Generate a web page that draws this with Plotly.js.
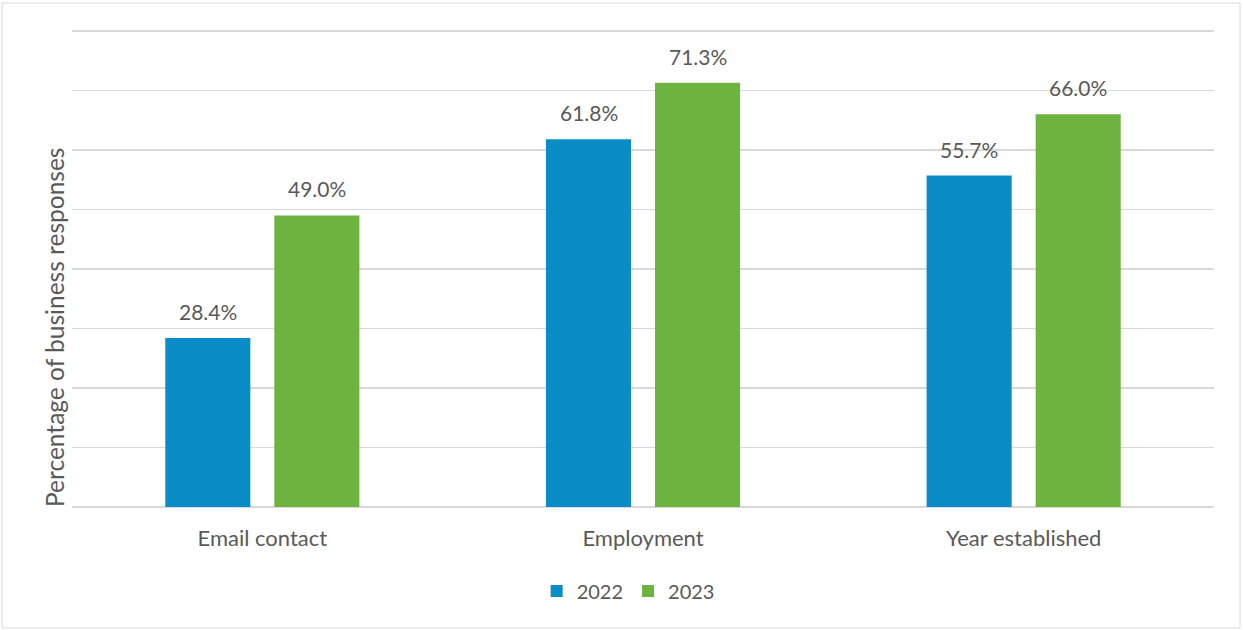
<!DOCTYPE html>
<html>
<head>
<meta charset="utf-8">
<script src="https://cdn.plot.ly/plotly-3.0.1.min.js"></script>
<style>html,body{margin:0;padding:0;background:#fff;}#chart{width:1243px;height:630px;}</style>
</head>
<body>
<div id="chart"></div>
<script>
const categories = ["Email contact", "Employment", "Year established"];
const values2022 = [28.4, 61.8, 55.7];
const values2023 = [49.0, 71.3, 66.0];
const seriesNames = ["2022", "2023"];
const colors = ["#0A8CC6", "#6CB33F"];

const FONT = "Lato, 'Open Sans', sans-serif";
const TXT = "#595959";

const traces = [values2022, values2023].map((vals, i) => ({
  type: "bar",
  name: seriesNames[i],
  x: categories,
  y: vals,
  marker: {color: colors[i]},
  hoverinfo: "skip"
}));

const annotations = [];
[values2022, values2023].forEach((vals, i) => {
  vals.forEach((v, j) => {
    annotations.push({
      x: categories[j], y: v, xref: "x", yref: "y",
      xshift: (i === 0 ? -54.5 : 54.5), yshift: 12,
      yanchor: "bottom", showarrow: false,
      text: v.toFixed(1) + "%",
      font: {family: FONT, size: 21, color: TXT}
    });
  });
});
annotations.push({
  xref: "paper", yref: "paper", x: -0.0158, y: 0.3734,
  xanchor: "center", yanchor: "middle", textangle: -90, showarrow: false,
  text: "Percentage of business responses",
  font: {family: FONT, size: 24.5, color: TXT}
});

const layout = {
  width: 1243, height: 630,
  margin: {l: 72, r: 29, t: 25, b: 123},
  paper_bgcolor: "#ffffff", plot_bgcolor: "#ffffff",
  barmode: "group", bargap: 0.427, bargroupgap: 0.22,
  font: {family: FONT, size: 20, color: TXT},
  xaxis: {
    showgrid: false, showline: false, zeroline: false,
    ticks: "outside", ticklen: 12, tickcolor: "rgba(0,0,0,0)",
    tickfont: {family: FONT, size: 22, color: TXT}
  },
  yaxis: {
    range: [0, 81], tick0: 0, dtick: 10, showticklabels: false,
    showgrid: true, gridcolor: "#d9d9d9", gridwidth: 1.5,
    zeroline: true, zerolinecolor: "#d9d9d9", zerolinewidth: 1.5,
    showline: false, fixedrange: true
  },
  showlegend: true,
  legend: {
    orientation: "h", x: 0.487, xanchor: "center", y: -0.1743, yanchor: "middle",
    font: {family: FONT, size: 20, color: TXT}, itemwidth: 30, traceorder: "normal"
  },
  annotations: annotations,
  shapes: [{
    type: "rect", xref: "paper", yref: "paper",
    x0: -0.0613, x1: 1.0228, y0: -0.251, y1: 1.0456,
    line: {color: "#d9d9d9", width: 1}, fillcolor: "rgba(0,0,0,0)", layer: "below"
  }]
};

Plotly.newPlot("chart", traces, layout, {staticPlot: true, displayModeBar: false});
</script>
</body>
</html>
